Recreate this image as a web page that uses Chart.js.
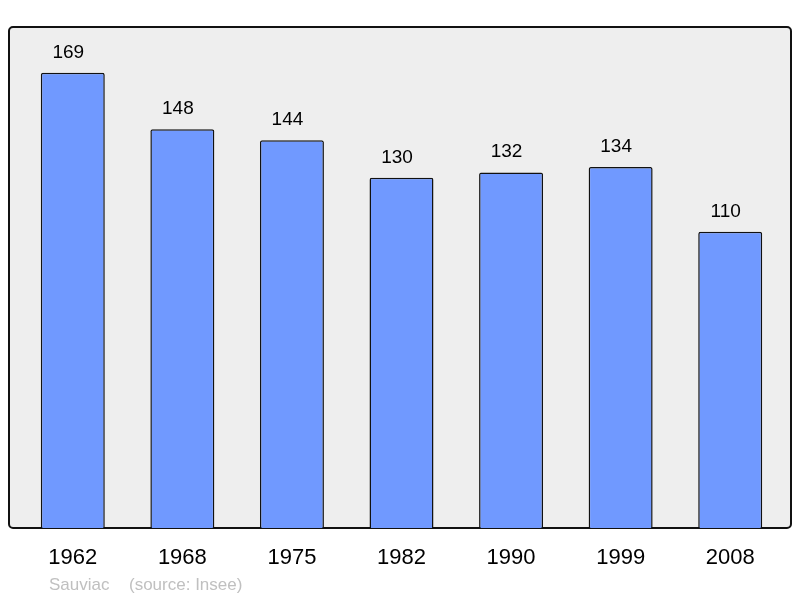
<!DOCTYPE html>
<html>
<head>
<meta charset="utf-8">
<script src="https://cdn.jsdelivr.net/npm/chart.js@4"></script>
<style>
  html, body { margin: 0; padding: 0; background: #fff; }
  #wrap { width: 800px; height: 598px; }
</style>
</head>
<body>
<div id="wrap"><canvas id="popChart" width="800" height="598"></canvas></div>
<script>
const years = ['1962', '1968', '1975', '1982', '1990', '1999', '2008'];
const population = [169, 148, 144, 130, 132, 134, 110];
const footerName = 'Sauviac';
const footerSource = '(source: Insee)';

// grey frame behind the bars
const framePlugin = {
    id: 'frame',
    beforeDraw(chart) {
        const c = chart.ctx;
        c.save();
        c.beginPath();
        c.roundRect(9, 27, 782, 501, 4);
        c.fillStyle = '#eeeeee';
        c.fill();
        c.lineWidth = 2;
        c.strokeStyle = '#111';
        c.stroke();
        c.restore();
    }
};

// value on top of every bar + footer
const labelPlugin = {
    id: 'labels',
    afterDatasetsDraw(chart) {
        const c = chart.ctx;
        const meta = chart.getDatasetMeta(0);
        c.save();
        c.font = '19px "Liberation Sans", Arial, sans-serif';
        c.fillStyle = '#000';
        c.textAlign = 'center';
        c.textBaseline = 'alphabetic';
        meta.data.forEach(function (bar, i) {
            c.fillText(population[i], bar.x - 4.5, bar.y - 15);
        });
        c.font = '17px "Liberation Sans", Arial, sans-serif';
        c.fillStyle = '#c0c0c0';
        c.textAlign = 'left';
        c.fillText(footerName, 49, 590);
        c.fillText(footerSource, 129, 590);
        c.restore();
    }
};

const ctx = document.getElementById('popChart').getContext('2d');
const popChart = new Chart(ctx, {
    type: 'bar',
    data: {
        labels: years,
        datasets: [{
            data: population,
            backgroundColor: '#7099ff',
            borderColor: '#111',
            borderWidth: 1.5,
            borderRadius: 2,
            borderSkipped: 'bottom',
            barPercentage: 0.584,
            categoryPercentage: 1
        }]
    },
    options: {
        responsive: false,
        animation: false,
        devicePixelRatio: 1,
        layout: { padding: { left: 18, right: 15, top: 27, bottom: 0 } },
        plugins: {
            legend: { display: false },
            tooltip: { enabled: false }
        },
        scales: {
            x: {
                grid: { display: false, drawTicks: false },
                border: { display: false },
                ticks: {
                    color: '#000',
                    padding: 17,
                    font: { family: '"Liberation Sans", Arial, sans-serif', size: 22 }
                },
                afterFit(scale) { scale.height = 70; }
            },
            y: {
                display: false,
                min: 0,
                max: 186
            }
        }
    },
    plugins: [framePlugin, labelPlugin]
});
</script>
</body>
</html>
